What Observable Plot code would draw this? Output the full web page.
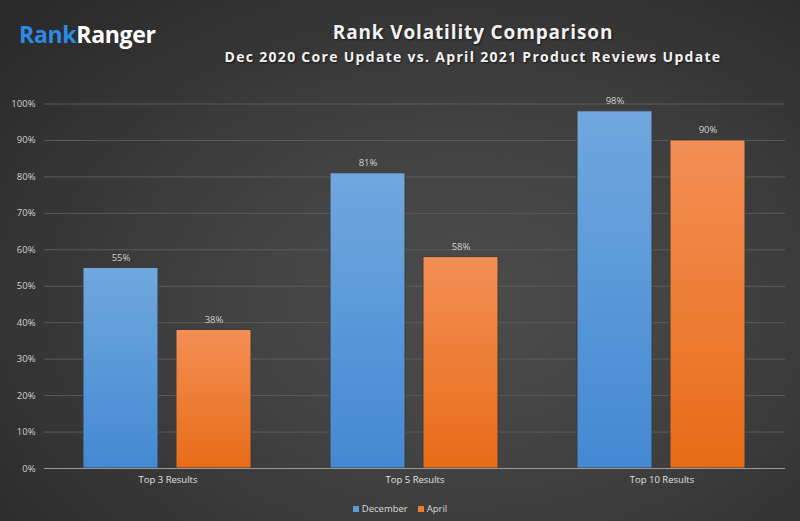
<!DOCTYPE html>
<html>
<head>
<meta charset="utf-8">
<script src="https://cdn.jsdelivr.net/npm/d3@7"></script>
<script src="https://cdn.jsdelivr.net/npm/@observablehq/plot@0.6"></script>
<style>
  html, body { margin: 0; padding: 0; }
  body {
    width: 800px; height: 521px; overflow: hidden; position: relative;
    background: radial-gradient(ellipse 75% 80% at 58% 58%, #4c4c4c 0%, #424242 40%, #343434 75%, #2a2a2a 100%);
    font-family: "Open Sans", sans-serif;
  }
  #logo { position: absolute; left: 19px; top: 18px; font-size: 23px; font-weight: 700; letter-spacing: -0.3px; color: #ffffff; }
  #logo .rank { color: #2b8ae6; }
  #title { position: absolute; left: 173px; width: 600px; top: 19px; text-align: center; font-size: 19px; font-weight: 700; color: #f2f2f2; letter-spacing: 0.85px; text-shadow: 1px 1px 2px rgba(0,0,0,0.6); }
  #subtitle { position: absolute; left: 123px; width: 700px; top: 47px; text-align: center; font-size: 14px; font-weight: 700; color: #f2f2f2; letter-spacing: 1.3px; text-shadow: 1px 1px 2px rgba(0,0,0,0.6); }
  #chart { position: absolute; left: 0; top: 90px; }
  #legend { position: absolute; left: 0; width: 800px; top: 502px; text-align: center; font-size: 9.5px; color: #d9d9d9; }
  #legend span.item { margin: 0 5px; }
  #legend i { display: inline-block; width: 6px; height: 6px; margin-right: 3px; vertical-align: 0px; }
</style>
</head>
<body>
<div id="logo"><span class="rank">Rank</span>Ranger</div>
<div id="title">Rank Volatility Comparison</div>
<div id="subtitle">Dec 2020 Core Update vs. April 2021 Product Reviews Update</div>
<div id="chart"></div>
<div id="legend"></div>
<script>
const categories = ["Top 3 Results", "Top 5 Results", "Top 10 Results"];
const series = ["December", "April"];
const decemberValues = [0.55, 0.81, 0.98];
const aprilValues = [0.38, 0.58, 0.90];
const yTicks = [0, 0.1, 0.2, 0.3, 0.4, 0.5, 0.6, 0.7, 0.8, 0.9, 1.0];
const legendColors = ["#5b9bd5", "#ed7d31"];

const data = [];
categories.forEach((c, i) => {
  data.push({category: c, series: "December", value: decemberValues[i]});
  data.push({category: c, series: "April", value: aprilValues[i]});
});

const plot = Plot.plot({
  width: 800,
  height: 410,
  marginLeft: 43,
  marginRight: 15,
  marginTop: 13.5,
  marginBottom: 32,
  style: {background: "transparent", fontFamily: "Open Sans, sans-serif", fontSize: "9.5px", color: "#d9d9d9"},
  fx: {domain: categories, padding: 0, label: null},
  x: {domain: series, paddingInner: 0.19, paddingOuter: 0.41, axis: null},
  y: {domain: [0, 1], label: null},
  color: {domain: series, range: ["url(#gradBlue)", "url(#gradOrange)"]},
  marks: [
    Plot.gridY(yTicks, {stroke: "#5c5c5c", strokeOpacity: 1}),
    Plot.axisY(yTicks, {tickSize: 0, tickPadding: 9, tickFormat: d => Math.round(d * 100) + "%", label: null, fill: "#d0d0d0", fontSize: "9.5px"}),
    Plot.barY(data, {fx: "category", x: "series", y: "value", fill: "series", stroke: "#3c3c3c", strokeWidth: 1}),
    Plot.text(data, {fx: "category", x: "series", y: "value", text: d => Math.round(d.value * 100) + "%", dy: -10, fill: "#d0d0d0", fontSize: "9.5px"}),
    Plot.ruleY([0], {stroke: "#9a9a9a"}),
    Plot.axisFx({anchor: "bottom", tickSize: 0, tickPadding: 8, label: null, fill: "#e0e0e0", fontSize: "9.5px"})
  ]
});

const svg = d3.select(plot);
const defs = svg.insert("defs", ":first-child");
function grad(id, top, bottom) {
  const g = defs.append("linearGradient").attr("id", id).attr("x1", 0).attr("y1", 0).attr("x2", 0).attr("y2", 1);
  g.append("stop").attr("offset", "0%").attr("stop-color", top);
  g.append("stop").attr("offset", "100%").attr("stop-color", bottom);
}
grad("gradBlue", "#70a8de", "#4389d3");
grad("gradOrange", "#f38f55", "#e86c17");

document.getElementById("chart").appendChild(plot);

const legend = d3.select("#legend");
series.forEach((s, i) => {
  const item = legend.append("span").attr("class", "item");
  item.append("i").style("background", legendColors[i]);
  item.append("span").text(s);
});
</script>
</body>
</html>
